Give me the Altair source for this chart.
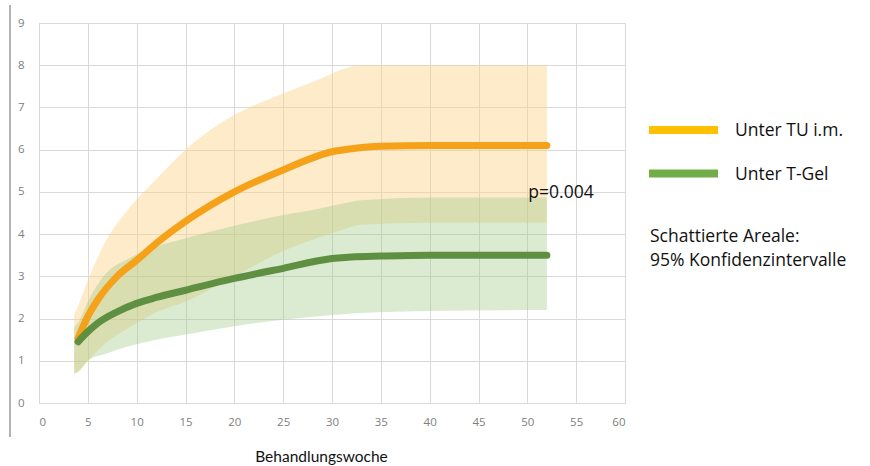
import altair as alt
import pandas as pd

# Mean curves (treatment week vs. value)
weeks = [4, 5, 6, 8, 10, 12, 15, 20, 25, 30, 32, 35, 40, 45, 52]
tu_mean = [1.53, 2.05, 2.44, 3.0, 3.38, 3.78, 4.3, 5.0, 5.52, 5.95, 6.02, 6.08, 6.1, 6.1, 6.1]
gel_mean = [1.45, 1.69, 1.89, 2.16, 2.36, 2.5, 2.67, 2.95, 3.19, 3.42, 3.46, 3.48, 3.5, 3.5, 3.5]

# 95% confidence bands
band_weeks = [3.6, 4, 5, 7, 9, 12, 15, 20, 25, 29, 31, 33, 40, 52]
tu_lower = [0.7, 0.72, 1.0, 1.45, 1.75, 2.15, 2.4, 3.0, 3.6, 3.95, 4.1, 4.22, 4.27, 4.27]
tu_upper = [2.1, 2.3, 2.9, 3.9, 4.55, 5.3, 6.0, 6.82, 7.33, 7.7, 7.9, 8.0, 8.0, 8.0]
gel_lower = [0.7, 0.75, 1.0, 1.18, 1.33, 1.5, 1.62, 1.82, 1.97, 2.06, 2.1, 2.13, 2.18, 2.2]
gel_upper = [1.8, 1.9, 2.4, 3.1, 3.4, 3.7, 3.9, 4.2, 4.45, 4.62, 4.72, 4.8, 4.87, 4.87]

series_names = ["Unter TU i.m.", "Unter T-Gel"]
line_colors = ["#F5A21A", "#5F8F41"]
legend_colors = ["#FFC000", "#70AD47"]
p_label = "p=0.004"
note_lines = ["Schattierte Areale:", "95% Konfidenzintervalle"]

x_ticks = list(range(0, 61, 5))
y_ticks = list(range(0, 10))

TEXT_FONT = "Open Sans"

lines_df = pd.DataFrame({
    "week": weeks * 2,
    "value": tu_mean + gel_mean,
    "series": [series_names[0]] * len(weeks) + [series_names[1]] * len(weeks),
})
tu_band = pd.DataFrame({"week": band_weeks, "lo": tu_lower, "hi": tu_upper})
gel_band = pd.DataFrame({"week": band_weeks, "lo": gel_lower, "hi": gel_upper})

x_scale = alt.Scale(domain=[0, 60], nice=False, zero=False)
y_scale = alt.Scale(domain=[0, 9], nice=False)

x_axis = alt.Axis(
    values=x_ticks, title="Behandlungswoche", domain=False, ticks=False,
    labelPadding=13, labelFont="Open Sans", labelFontSize=11.5, labelColor="#808080",
    titleFont="Lato", titleFontSize=15.5, titleFontWeight="normal", titleColor="#111111",
    titleX=282, titleY=58, titleBaseline="alphabetic", titleAlign="center",
    gridColor="#D9D9D9",
)
y_axis = alt.Axis(
    values=y_ticks, title=None, domain=False, ticks=False,
    labelPadding=15, labelFont="Open Sans", labelFontSize=11.5, labelColor="#808080",
    gridColor="#D9D9D9",
)

tu_area = alt.Chart(tu_band).mark_area(color="#FBD38A", opacity=0.45, interpolate="monotone").encode(
    x=alt.X("week:Q", scale=x_scale, axis=x_axis),
    y=alt.Y("lo:Q", scale=y_scale, axis=y_axis),
    y2="hi:Q",
)
gel_area = alt.Chart(gel_band).mark_area(color="#9DCB8A", opacity=0.38, interpolate="monotone").encode(
    x=alt.X("week:Q", scale=x_scale),
    y=alt.Y("lo:Q", scale=y_scale),
    y2="hi:Q",
)

mean_lines = alt.Chart(lines_df).mark_line(
    strokeWidth=7, strokeCap="round", strokeJoin="round", interpolate="monotone"
).encode(
    x=alt.X("week:Q", scale=x_scale),
    y=alt.Y("value:Q", scale=y_scale),
    color=alt.Color("series:N", scale=alt.Scale(domain=series_names, range=line_colors), legend=None),
    detail="series:N",
)

p_text = alt.Chart(pd.DataFrame({"week": [50.1], "value": [4.86], "t": [p_label]})).mark_text(
    align="left", baseline="alphabetic", font=TEXT_FONT, fontSize=17.5, color="#111111"
).encode(
    x=alt.X("week:Q", scale=x_scale),
    y=alt.Y("value:Q", scale=y_scale),
    text="t:N",
)

# Left frame line of the figure
frame_line = alt.Chart(pd.DataFrame({"k": [0]})).mark_rule(color="#9A9A9A", strokeWidth=1.5).encode(
    x=alt.value(-29), y=alt.value(-18), y2=alt.value(414)
)

# Hand-drawn legend for the two curves
legend_layers = []
for name, col, ypos in zip(series_names, legend_colors, [107, 150.5]):
    d = pd.DataFrame({"t": [name]})
    legend_layers.append(
        alt.Chart(d).mark_rule(color=col, strokeWidth=8).encode(
            x=alt.value(610), x2=alt.value(679), y=alt.value(ypos)
        )
    )
    legend_layers.append(
        alt.Chart(d).mark_text(align="left", baseline="middle", font=TEXT_FONT, fontSize=17.5, color="#111111").encode(
            x=alt.value(696), y=alt.value(ypos + 1), text="t:N"
        )
    )

note_layers = []
for txt, ypos in zip(note_lines, [218.5, 242.5]):
    note_layers.append(
        alt.Chart(pd.DataFrame({"t": [txt]})).mark_text(
            align="left", baseline="alphabetic", font=TEXT_FONT, fontSize=17.5, color="#111111"
        ).encode(x=alt.value(611), y=alt.value(ypos), text="t:N")
    )

chart = alt.layer(
    tu_area, gel_area, mean_lines, p_text, frame_line, *legend_layers, *note_layers
).properties(
    width=586, height=380,
    autosize=alt.AutoSizeParams(type="none"),
    padding={"left": 39, "top": 23, "right": 245, "bottom": 63},
    background="white",
).configure_view(
    stroke="#D9D9D9", strokeWidth=1
)

chart.save("out.html", embed_options={"renderer": "svg", "actions": False})
